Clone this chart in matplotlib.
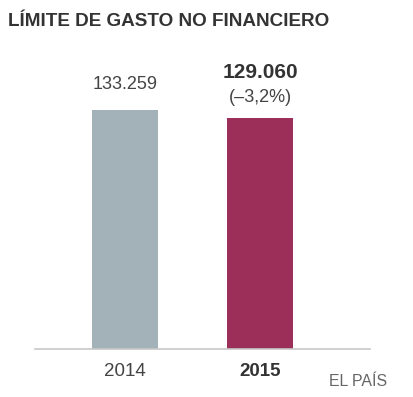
import matplotlib
matplotlib.use("Agg")
import matplotlib.pyplot as plt

years = ["2014", "2015"]
values = [133259, 129060]
value_labels = ["133.259", "129.060"]
change_label = "(\u20133,2%)"
title = "LÍMITE DE GASTO NO FINANCIERO"
source = "EL PAÍS"
colors = ["#a3b1b9", "#9b2f59"]

plt.rcParams['font.family'] = ['Liberation Sans', 'DejaVu Sans']

W, H = 414, 397
fig = plt.figure(figsize=(W / 100, H / 100), dpi=100)
ax_left, ax_right = 35 / W, 370 / W
ax_bottom, ax_top = 1 - 349 / H, 1 - 40 / H
ax = fig.add_axes([ax_left, ax_bottom, ax_right - ax_left, ax_top - ax_bottom])

x = list(range(len(years)))
ax.bar(x, values, width=0.49, color=colors, zorder=2)
ax.set_xlim(-0.667, 1.815)
ax.set_ylim(0, 309 / 239 * 133259)

for s in ["top", "right", "left"]:
    ax.spines[s].set_visible(False)
ax.spines["bottom"].set_color("#c8c8c8")
ax.spines["bottom"].set_linewidth(1.2)
ax.set_yticks([])
ax.set_xticks(x)
ax.set_xticklabels(years, fontsize=13.5, color="#444444")
ax.get_xticklabels()[1].set_fontweight("bold")
ax.get_xticklabels()[1].set_color("#333333")
ax.tick_params(axis="x", length=0, pad=10)

ax.annotate(value_labels[0], (x[0], values[0]), xytext=(0, 18.7), textcoords="offset points",
            ha="center", va="center", fontsize=13, color="#444444")
ax.annotate(value_labels[1], (x[1], values[1]), xytext=(0, 32.4), textcoords="offset points",
            ha="center", va="center", fontsize=15, fontweight="bold", color="#333333")
ax.annotate(change_label, (x[1], values[1]), xytext=(0, 14.4), textcoords="offset points",
            ha="center", va="center", fontsize=13, color="#444444")

fig.text(8 / W, 1 - 22 / H, title, fontsize=13.6, fontweight="bold", color="#333333",
         ha="left", va="center")
fig.text(387 / W, 1 - 382 / H, source, fontsize=11.4, color="#666666", ha="right", va="center")

fig.savefig("out.png", dpi=100)
